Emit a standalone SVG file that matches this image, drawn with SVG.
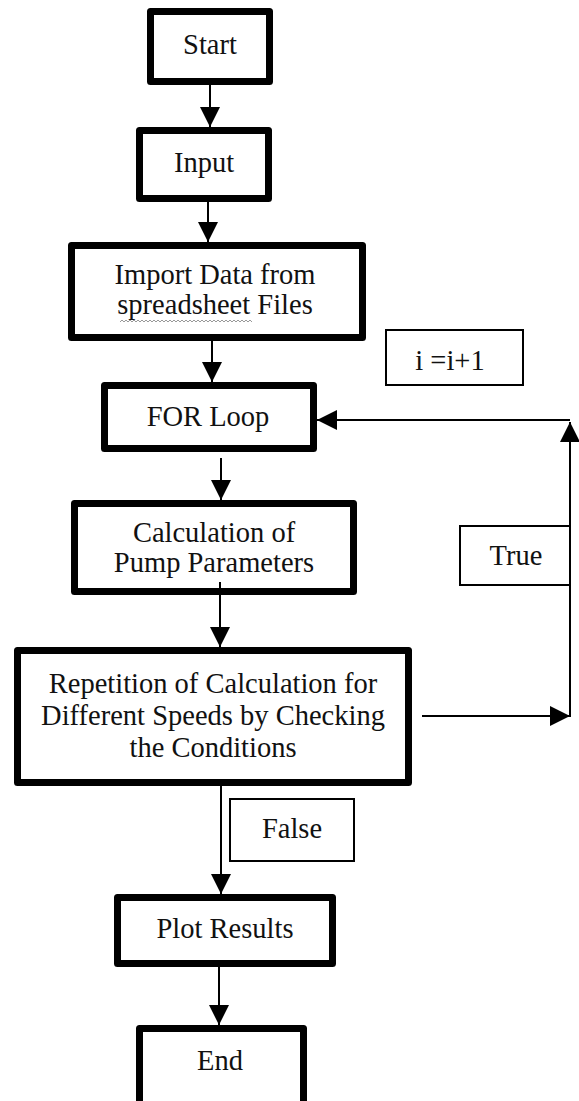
<svg xmlns="http://www.w3.org/2000/svg" width="579" height="1101" viewBox="0 0 579 1101">
<style>
.box{fill:#fff;stroke:#000;stroke-width:7;stroke-linejoin:round}
.thin{fill:#fff;stroke:#000;stroke-width:2}
.t{font-family:"Liberation Serif","Times New Roman",serif;font-size:28.5px;fill:#111;text-anchor:middle}
.c{fill:none;stroke:#000;stroke-width:2}
</style>
<defs>
<marker id="ah" markerUnits="userSpaceOnUse" markerWidth="20" markerHeight="20" viewBox="0 0 20 20" refX="20" refY="10" orient="auto">
<path d="M0,0 L20,10 L0,20 z" fill="#000"/>
</marker>
</defs>
<rect width="579" height="1101" fill="#fff"/>
<g id="start">
<rect class="box" x="150.5" y="11.5" width="119" height="70"/>
<text class="t" x="210" y="54">Start</text>
</g>
<g id="input">
<rect class="box" x="139.5" y="130.5" width="129" height="68"/>
<text class="t" x="204" y="172">Input</text>
</g>
<g id="import">
<rect class="box" x="71.5" y="245.5" width="291" height="92"/>
<text class="t" x="215" y="284">Import Data from</text>
<text class="t" x="215" y="314">spreadsheet Files</text>
<path d="M120,322 l2,-2 2,2 2,-2 2,2 2,-2 2,2 2,-2 2,2 2,-2 2,2 2,-2 2,2 2,-2 2,2 2,-2 2,2 2,-2 2,2 2,-2 2,2 2,-2 2,2 2,-2 2,2 2,-2 2,2 2,-2 2,2 2,-2 2,2 2,-2 2,2 2,-2 2,2 2,-2 2,2 2,-2 2,2 2,-2 2,2 2,-2 2,2 2,-2 2,2 2,-2 2,2 2,-2 2,2 2,-2 2,2 2,-2 2,2 2,-2 2,2 2,-2 2,2 2,-2 2,2 2,-2 2,2 2,-2 2,2 2,-2 2,2 2,-2 2,2" fill="none" stroke="#999" stroke-width="1"/>
</g>
<g id="increment">
<rect class="thin" x="386" y="330" width="137" height="55"/>
<text class="t" x="450" y="370">i =i+1</text>
</g>
<g id="forloop">
<rect class="box" x="104.5" y="385.5" width="209" height="63"/>
<text class="t" x="208" y="426">FOR Loop</text>
</g>
<g id="calc">
<rect class="box" x="74.5" y="503.5" width="279" height="88"/>
<text class="t" x="214" y="542">Calculation of</text>
<text class="t" x="214" y="572">Pump Parameters</text>
</g>
<g id="true-label">
<rect class="thin" x="460" y="526" width="110" height="59"/>
<text class="t" x="516" y="565">True</text>
</g>
<g id="repetition">
<rect class="box" x="17.5" y="650.5" width="391" height="132"/>
<text class="t" x="213" y="693">Repetition of Calculation for</text>
<text class="t" x="213" y="725">Different Speeds by Checking</text>
<text class="t" x="213" y="757">the Conditions</text>
</g>
<g id="false-label">
<rect class="thin" x="230" y="799" width="124" height="62"/>
<text class="t" x="292" y="838">False</text>
</g>
<g id="plot">
<rect class="box" x="117.5" y="897.5" width="215" height="66"/>
<text class="t" x="225" y="938">Plot Results</text>
</g>
<g id="end">
<rect class="box" x="139.5" y="1028.5" width="164" height="100"/>
<text class="t" x="220" y="1070">End</text>
</g>
<g id="connectors">
<line class="c" x1="210" y1="85" x2="210" y2="127" marker-end="url(#ah)"/>
<line class="c" x1="208" y1="202" x2="208" y2="242" marker-end="url(#ah)"/>
<line class="c" x1="212" y1="341" x2="212" y2="382" marker-end="url(#ah)"/>
<line class="c" x1="221" y1="458" x2="221" y2="500" marker-end="url(#ah)"/>
<line class="c" x1="220" y1="582" x2="220" y2="647" marker-end="url(#ah)"/>
<line class="c" x1="422" y1="716" x2="570" y2="716" marker-end="url(#ah)"/>
<line class="c" x1="570" y1="717" x2="570" y2="422" marker-end="url(#ah)"/>
<line class="c" x1="570" y1="420" x2="317" y2="420" marker-end="url(#ah)"/>
<line class="c" x1="221" y1="786" x2="221" y2="894" marker-end="url(#ah)"/>
<line class="c" x1="219" y1="967" x2="219" y2="1025" marker-end="url(#ah)"/>
</g>
</svg>
